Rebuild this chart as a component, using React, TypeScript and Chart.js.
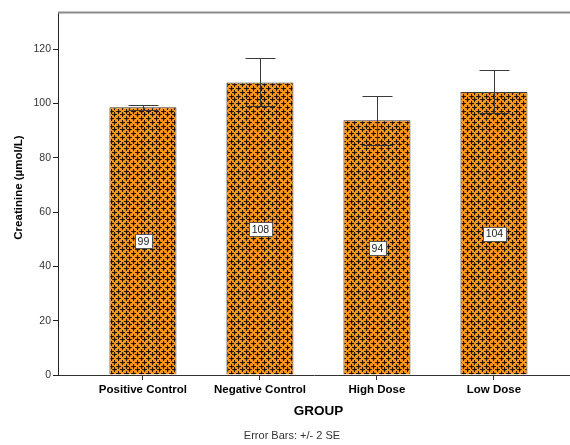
import React, { useEffect, useRef } from "react";
import { Chart, registerables } from "chart.js";

Chart.register(...registerables);

const categories = ["Positive Control", "Negative Control", "High Dose", "Low Dose"];
const means = [98.6, 107.7, 93.8, 104.2];
const errLow = [97.6, 98.9, 84.6, 96.4];
const errHigh = [99.5, 116.6, 102.8, 112.2];
const yTicks = [0, 20, 40, 60, 80, 100, 120];
const yTitle = "Creatinine (µmol/L)";
const xTitle = "GROUP";
const footnote = "Error Bars: +/- 2 SE";

const FONT = "'Liberation Sans', Arial, sans-serif";

function makePattern(): CanvasPattern | string {
  const c = document.createElement("canvas");
  c.width = 15;
  c.height = 15;
  const g = c.getContext("2d");
  if (!g) return "#F8961A";
  g.fillStyle = "#F8961A";
  g.fillRect(0, 0, 15, 15);
  const pts = [
    [2, 2], [9, 2], [6, 6], [13, 6], [2, 9], [9, 9], [6, 13], [13, 13],
  ];
  const plus = (x: number, y: number) => {
    for (const dx of [-15, 0, 15]) {
      for (const dy of [-15, 0, 15]) {
        g.fillStyle = "rgba(60,30,0,0.22)";
        g.fillRect(x - 1 + dx, y + 1 + dy, 3, 1);
        g.fillRect(x + 1 + dx, y - 1 + dy, 1, 3);
        g.fillStyle = "rgba(25,12,0,0.92)";
        g.fillRect(x - 2 + dx, y + dy, 5, 1);
        g.fillRect(x + dx, y - 2 + dy, 1, 5);
      }
    }
  };
  pts.forEach(([x, y]) => plus(x, y));
  const p = g.createPattern(c, "repeat");
  return p || "#F8961A";
}

const overlay = {
  id: "overlay",
  afterDatasetsDraw(chart: any) {
    const { ctx, chartArea, scales } = chart;
    const xs = scales.x;
    const ys = scales.y;
    ctx.save();
    // top frame
    ctx.strokeStyle = "#8a8a8a";
    ctx.lineWidth = 2;
    ctx.beginPath();
    ctx.moveTo(chartArea.left, chartArea.top + 0.5);
    ctx.lineTo(chartArea.right, chartArea.top + 0.5);
    ctx.stroke();

    // error bars
    ctx.strokeStyle = "#3a3a3a";
    ctx.lineWidth = 1;
    for (let i = 0; i < categories.length; i++) {
      const x = Math.round(xs.getPixelForValue(i)) + 0.5;
      const y1 = Math.round(ys.getPixelForValue(errLow[i])) + 0.5;
      const y2 = Math.round(ys.getPixelForValue(errHigh[i])) + 0.5;
      ctx.beginPath();
      ctx.moveTo(x, y1);
      ctx.lineTo(x, y2);
      ctx.moveTo(x - 15, y1);
      ctx.lineTo(x + 15, y1);
      ctx.moveTo(x - 15, y2);
      ctx.lineTo(x + 15, y2);
      ctx.stroke();
    }

    // value labels
    ctx.font = `10.5px ${FONT}`;
    ctx.textAlign = "center";
    ctx.textBaseline = "middle";
    for (let i = 0; i < categories.length; i++) {
      const txt = String(Math.round(means[i]));
      const x = xs.getPixelForValue(i);
      const y = ys.getPixelForValue(means[i] / 2);
      const w = ctx.measureText(txt).width + 5;
      const h = 14;
      const bx = Math.round(x - w / 2) + 0.5;
      const by = Math.round(y - h / 2) + 0.5;
      ctx.fillStyle = "#ffffff";
      ctx.fillRect(bx, by, Math.round(w), h);
      ctx.strokeStyle = "#555555";
      ctx.strokeRect(bx, by, Math.round(w), h);
      ctx.fillStyle = "#222222";
      ctx.fillText(txt, x + 0.5, y + 1);
    }

    // titles
    ctx.fillStyle = "#000000";
    ctx.font = `bold 13.5px ${FONT}`;
    ctx.textAlign = "center";
    ctx.textBaseline = "middle";
    const mid = (xs.getPixelForValue(0) + xs.getPixelForValue(categories.length - 1)) / 2;
    ctx.fillText(xTitle, mid, 411);

    ctx.font = `11px ${FONT}`;
    ctx.fillStyle = "#333333";
    ctx.fillText(footnote, 292, 436);

    ctx.save();
    ctx.translate(19, (chartArea.top + chartArea.bottom) / 2 - 6);
    ctx.rotate(-Math.PI / 2);
    ctx.font = `bold 11.5px ${FONT}`;
    ctx.fillStyle = "#000000";
    ctx.fillText(yTitle, 0, 0);
    ctx.restore();

    ctx.restore();
  },
};

export default function App() {
  const ref = useRef<HTMLCanvasElement | null>(null);
  useEffect(() => {
    if (!ref.current) return;
    const pattern = makePattern();
    const chart = new Chart(ref.current, {
      type: "bar",
      data: {
        datasets: [
          {
            data: means.map((v, i) => ({ x: i, y: v })),
            backgroundColor: pattern as any,
            borderColor: "#3a3a3a",
            borderWidth: 1,
            barPercentage: 0.573,
            categoryPercentage: 1,
          },
        ],
      },
      options: {
        animation: false,
        responsive: true,
        maintainAspectRatio: false,
        layout: { padding: { top: 12, right: 0, left: 0, bottom: 0 } },
        plugins: { legend: { display: false }, tooltip: { enabled: false } },
        scales: {
          x: {
            type: "linear",
            min: -0.726,
            max: 3.65,
            offset: false,
            afterFit: (s: any) => {
              s.height = 70;
            },
            afterBuildTicks: (s: any) => {
              s.ticks = categories.map((_, i) => ({ value: i }));
            },
            border: { color: "#333333", width: 1 },
            grid: { offset: false, drawOnChartArea: false, drawTicks: true, tickLength: 5, color: "#333333" },
            ticks: {
              autoSkip: false,
              maxRotation: 0,
              padding: 3,
              color: "#000000",
              font: { family: FONT, size: 11.5, weight: "bold" },
              callback: (v: any) => (Number.isInteger(v) && categories[v] ? categories[v] : ""),
            },
          },
          y: {
            min: 0,
            max: 133.7,
            afterFit: (s: any) => {
              s.width = 58;
            },
            afterBuildTicks: (s: any) => {
              s.ticks = yTicks.map((v) => ({ value: v }));
            },
            border: { color: "#222222", width: 1 },
            grid: { drawOnChartArea: false, drawTicks: true, tickLength: 5, color: "#222222" },
            ticks: {
              padding: 2,
              color: "#333333",
              font: { family: FONT, size: 10.5 },
            },
          },
        },
      },
      plugins: [overlay],
    });
    return () => chart.destroy();
  }, []);
  return (
    <div style={{ position: "fixed", left: 0, top: 0, width: 570, height: 445, background: "#fff" }}>
      <canvas ref={ref} />
    </div>
  );
}
